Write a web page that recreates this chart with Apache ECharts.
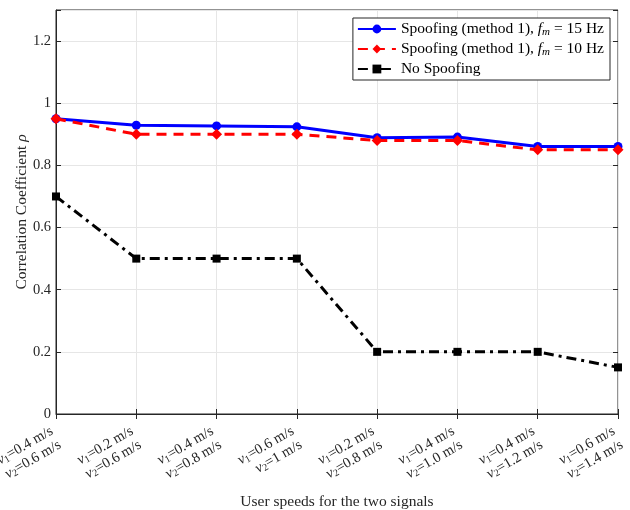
<!DOCTYPE html>
<html>
<head>
<meta charset="utf-8">
<script src="https://cdn.jsdelivr.net/npm/echarts@6/dist/echarts.min.js"></script>
<style>
  html, body { margin: 0; padding: 0; background: #fff; }
  #chart { width: 630px; height: 510px; }
</style>
</head>
<body>
<div id="chart"></div>
<script>
const v1Speeds = ['0.4', '0.2', '0.4', '0.6', '0.2', '0.4', '0.4', '0.6']
const v2Speeds = ['0.6', '0.6', '0.8', '1', '0.8', '1.0', '1.2', '1.4']
const spoof15 = [0.95, 0.929, 0.927, 0.924, 0.889, 0.891, 0.861, 0.861]
const spoof10 = [0.95, 0.90, 0.90, 0.90, 0.88, 0.88, 0.85, 0.85]
const noSpoof = [0.70, 0.50, 0.50, 0.50, 0.20, 0.20, 0.20, 0.15]
const yTicks = [0, 0.2, 0.4, 0.6, 0.8, 1, 1.2]

const categories = v1Speeds.map((v, i) => v + '|' + v2Speeds[i])
const font = 'Liberation Serif'

const chart = echarts.init(document.getElementById('chart'))

const option = {
    animation: false,
    textStyle: { fontFamily: font },
    grid: {
        left: 56, right: 12, top: 10, bottom: 96,
        outerBoundsMode: 'none', containLabel: false,
        show: true, borderColor: '#262626', borderWidth: 1
    },
    legend: {
        top: 18,
        right: 20,
        orient: 'vertical',
        itemWidth: 38,
        itemHeight: 11,
        itemGap: 3,
        padding: [3, 6, 3, 4],
        borderColor: '#262626',
        borderWidth: 1,
        backgroundColor: '#fff',
        textStyle: {
            fontSize: 15.5,
            color: '#000',
            rich: {
                it: { fontStyle: 'italic', fontSize: 15.5, fontFamily: font },
                sub: { fontStyle: 'italic', fontSize: 11, fontFamily: font, padding: [7, 0, 0, 0] }
            }
        },
        formatter(name) {
            if (name === 'a') return 'Spoofing (method 1), {it|f}{sub|m} = 15 Hz'
            if (name === 'b') return 'Spoofing (method 1), {it|f}{sub|m} = 10 Hz'
            return 'No Spoofing'
        },
        data: ['a', 'b', 'c']
    },
    xAxis: [{
        type: 'category',
        data: categories,
        boundaryGap: false,
        name: 'User speeds for the two signals',
        nameLocation: 'middle',
        nameGap: 80,
        nameMoveOverlap: false,
        nameTextStyle: { fontSize: 15.5, color: '#262626', fontFamily: font },
        axisLine: { lineStyle: { color: '#262626' } },
        axisTick: { inside: true, length: 5, lineStyle: { color: '#262626' } },
        splitLine: { show: true, lineStyle: { color: '#e6e6e6' } },
        axisLabel: {
            rotate: 30,
            interval: 0,
            margin: 23,
            color: '#262626',
            fontSize: 14.5,
            lineHeight: 16,
            align: 'right',
            rich: {
                it: { fontStyle: 'italic', fontSize: 14.5, fontFamily: font, color: '#262626' },
                sub: { fontSize: 10, fontFamily: font, color: '#262626', padding: [6, 0, 0, 0] },
                t: { fontSize: 14.5, fontFamily: font, color: '#262626' }
            },
            formatter(value) {
                const p = value.split('|')
                return '{it|v}{sub|1}{t|=' + p[0] + ' m/s}\n{it|v}{sub|2}{t|=' + p[1] + ' m/s}'
            }
        }
    }, {
        type: 'category',
        data: categories,
        boundaryGap: false,
        position: 'top',
        axisLine: { show: false },
        axisTick: { inside: true, length: 5, lineStyle: { color: '#262626' } },
        axisLabel: { show: false }
    }],
    yAxis: [{
        type: 'value',
        min: 0,
        max: 1.3,
        interval: 0.2,
        name: 'Correlation Coefficient {it|ρ}',
        nameLocation: 'middle',
        nameGap: 26,
        nameMoveOverlap: false,
        nameTextStyle: {
            fontSize: 15.5, color: '#262626', fontFamily: font,
            rich: { it: { fontStyle: 'italic', fontSize: 15.5, fontFamily: font, color: '#262626' } }
        },
        axisLine: { show: true, lineStyle: { color: '#262626' } },
        axisTick: { show: true, inside: true, length: 5, lineStyle: { color: '#262626' } },
        splitLine: { show: true, lineStyle: { color: '#e6e6e6' } },
        axisLabel: {
            color: '#262626',
            fontSize: 14.5,
            margin: 5,
            formatter(v) {
                const t = yTicks.find(x => Math.abs(x - v) < 1e-6)
                return t === undefined ? '' : String(t)
            }
        }
    }, {
        type: 'value',
        min: 0,
        max: 1.3,
        interval: 0.2,
        position: 'right',
        axisLine: { show: false },
        axisTick: { show: true, inside: true, length: 5, lineStyle: { color: '#262626' } },
        splitLine: { show: false },
        axisLabel: { show: false }
    }],
    series: [{
        name: 'a',
        type: 'line',
        data: spoof15,
        symbol: 'circle',
        symbolSize: 9,
        itemStyle: { color: '#0000ff' },
        lineStyle: { width: 3, color: '#0000ff' },
        z: 3
    }, {
        name: 'b',
        type: 'line',
        data: spoof10,
        symbol: 'diamond',
        symbolSize: 11,
        itemStyle: { color: '#ff0000' },
        lineStyle: { width: 3, color: '#ff0000', type: [10, 7] },
        z: 4
    }, {
        name: 'c',
        type: 'line',
        data: noSpoof,
        symbol: 'rect',
        symbolSize: 8,
        itemStyle: { color: '#000000' },
        lineStyle: { width: 3, color: '#000000', type: [10, 5, 3, 5] },
        z: 2
    }]
}

chart.setOption(option)
</script>
</body>
</html>
